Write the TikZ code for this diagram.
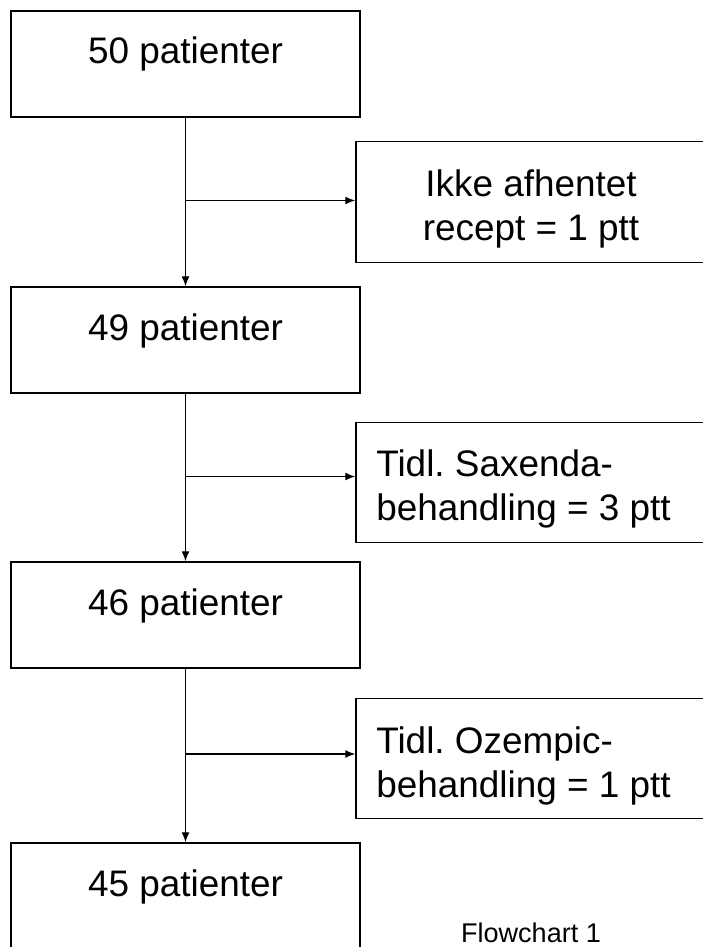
\documentclass[tikz,border=0pt]{standalone}
\usepackage{fontspec}
\setmainfont{Liberation Sans}
\usetikzlibrary{arrows.meta}
\frenchspacing

\begin{document}
\begin{tikzpicture}[scale=0.2,
    box/.style={draw=black, line width=0.8pt, minimum width=6.98cm, inner sep=0pt,
      text height=1.06cm, text depth=1.06cm, font=\fontsize{21}{25.5}\selectfont},
    side/.style={draw=black, line width=0.8pt, minimum width=7cm, minimum height=2.41cm, inner sep=0pt},
    sidetext/.style={inner sep=0pt, font=\fontsize{21}{25.5}\selectfont},
    flow/.style={draw=black, line width=0.8pt, -{Latex[length=0.2cm,width=0.16cm]}}]
                  \useasboundingbox (0,0) rectangle (70.2,-94.7);
                  \node [box] (p50) at (18.55,-6.4) {50 patienter};
                  \node [box] (p49) at (18.55,-34) {49 patienter};
                  \node [box] (p46) at (18.55,-61.5) {46 patienter};
                  \node [box] (p45) at (18.55,-89.6) {45 patienter};
                  \node [side] (s1) at (53.1,-20.2) {};
                  \node [sidetext, align=center] (t1) at (53.1,-20.9) {Ikke afhentet\\recept = 1 ptt};
                  \node [side] (s2) at (53.1,-48.25) {};
                  \node [sidetext, align=left, anchor=west] (t2) at (37.6,-48.9) {Tidl. Saxenda-\\behandling = 3 ptt};
                  \node [side] (s3) at (53.1,-75.85) {};
                  \node [sidetext, align=left, anchor=west] (t3) at (37.6,-76.6) {Tidl. Ozempic-\\behandling = 1 ptt};
                  \node [inner sep=0pt, anchor=base, font=\fontsize{15.4}{18}\selectfont] (cap) at (53.1,-94.25) {Flowchart 1};
                  \coordinate (b1) at (18.55,-20.05);
                  \coordinate (b2) at (18.55,-47.65);
                  \coordinate (b3) at (18.55,-75.4);
                  \draw [flow] (p50) -- (p49);
                  \draw [flow] (p49) -- (p46);
                  \draw [flow] (p46) -- (p45);
                  \draw [flow] (b1) -- (b1 -| s1.west);
                  \draw [flow] (b2) -- (b2 -| s2.west);
                  \draw [flow] (b3) -- (b3 -| s3.west);
\end{tikzpicture}
\end{document}
